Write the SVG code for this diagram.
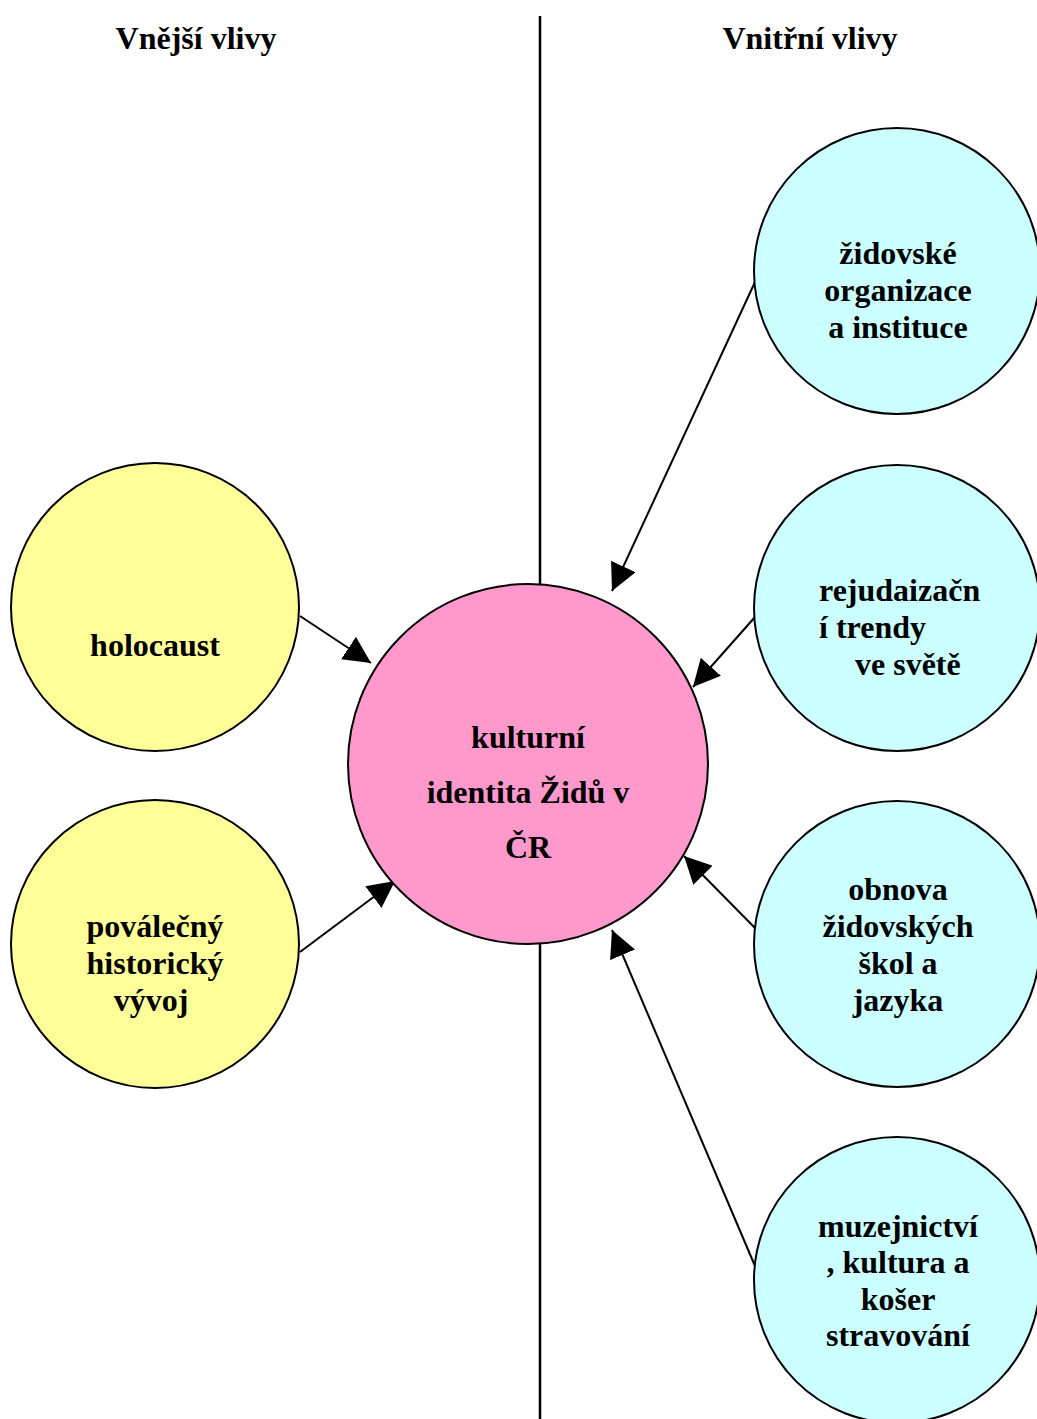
<svg xmlns="http://www.w3.org/2000/svg" width="1037" height="1419" viewBox="0 0 1037 1419">
<style>
.t{font-family:"Liberation Serif","Times New Roman",serif;font-weight:bold;font-size:32px;fill:#000}
.m{text-anchor:middle}
.c{stroke:#000;stroke-width:2}
.y{fill:#ffff99}
.b{fill:#ccffff}
.p{fill:#ff99cc}
.e{stroke:#000;stroke-width:2;fill:none}
.d{stroke:#000;stroke-width:2.5;fill:none}
</style>
<defs>
<marker id="ah" markerUnits="userSpaceOnUse" markerWidth="27" markerHeight="27" refX="27" refY="13.5" orient="auto">
<path d="M0,0 L27,13.5 L0,27 z" fill="#000"/>
</marker>
</defs>
<rect width="1037" height="1419" fill="#fff"/>
<g id="divider">
<line x1="540" y1="16" x2="540" y2="584" class="d"/>
<line x1="540" y1="944" x2="540" y2="1419" class="d"/>
</g>
<g id="headings">
<text class="t m" x="196" y="49">Vnější vlivy</text>
<text class="t m" x="810" y="49">Vnitřní vlivy</text>
</g>
<g id="connectors">
<line x1="300" y1="616" x2="371" y2="663" class="e" marker-end="url(#ah)"/>
<line x1="300" y1="952" x2="395" y2="881" class="e" marker-end="url(#ah)"/>
<line x1="755" y1="282" x2="612" y2="591" class="e" marker-end="url(#ah)"/>
<line x1="755" y1="617" x2="693" y2="687" class="e" marker-end="url(#ah)"/>
<line x1="755" y1="928" x2="684" y2="856" class="e" marker-end="url(#ah)"/>
<line x1="755" y1="1266" x2="612" y2="930" class="e" marker-end="url(#ah)"/>
</g>
<g id="holocaust">
<circle cx="155" cy="607" r="144" class="c y"/>
<text class="t m" x="155" y="656">holocaust</text>
</g>
<g id="povalecny">
<circle cx="155" cy="944" r="144" class="c y"/>
<text class="t m" x="155" y="937">poválečný</text>
<text class="t m" x="155" y="974">historický</text>
<text class="t m" x="151" y="1011">vývoj</text>
</g>
<g id="identita">
<circle cx="528" cy="764" r="180" class="c p"/>
<text class="t m" x="528" y="748">kulturní</text>
<text class="t m" x="528" y="803">identita Židů v</text>
<text class="t m" x="528" y="858">ČR</text>
</g>
<g id="organizace">
<circle cx="897" cy="271" r="143" class="c b"/>
<text class="t m" x="898" y="264">židovské</text>
<text class="t m" x="898" y="301">organizace</text>
<text class="t m" x="898" y="338">a instituce</text>
</g>
<g id="rejudaizace">
<circle cx="897" cy="608" r="143" class="c b"/>
<text class="t" x="819" y="601">rejudaizačn</text>
<text class="t" x="819" y="638">í trendy</text>
<text class="t" x="855" y="675">ve světě</text>
</g>
<g id="obnova">
<circle cx="897" cy="944" r="143" class="c b"/>
<text class="t m" x="898" y="900">obnova</text>
<text class="t m" x="898" y="937">židovských</text>
<text class="t m" x="898" y="974">škol a</text>
<text class="t m" x="898" y="1011">jazyka</text>
</g>
<g id="muzejnictvi">
<circle cx="897" cy="1280" r="143" class="c b"/>
<text class="t m" x="898" y="1237">muzejnictví</text>
<text class="t m" x="898" y="1273">, kultura a</text>
<text class="t m" x="898" y="1310">košer</text>
<text class="t m" x="898" y="1346">stravování</text>
</g>
</svg>
